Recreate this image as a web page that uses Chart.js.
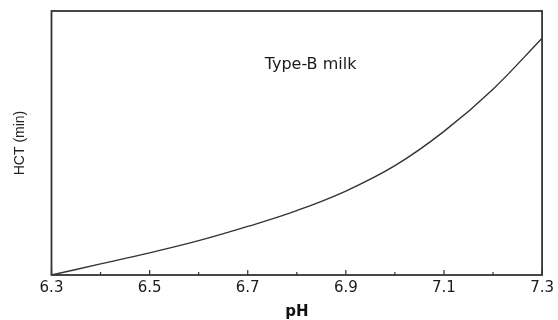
<!DOCTYPE html>
<html>
<head>
<meta charset="utf-8">
<script src="https://cdn.jsdelivr.net/npm/chart.js@4"></script>
<style>
  html, body { margin: 0; padding: 0; background: #fff; }
  #wrap { width: 558px; height: 320px; }
</style>
</head>
<body>
<div id="wrap"><canvas id="hct"></canvas></div>
<script>
// data (HCT in arbitrary units, axis has no y labels)
const phValues  = [6.3, 6.4, 6.5, 6.6, 6.7, 6.8, 6.9, 7.0, 7.1, 7.2, 7.3];
const hctValues = [0, 4.2, 8.4, 13.0, 18.4, 24.4, 31.8, 41.4, 54.4, 70.4, 89.7];
const majorTicks = [6.3, 6.5, 6.7, 6.9, 7.1, 7.3];
const minorTicks = [6.4, 6.6, 6.8, 7.0, 7.2];
const annotation = 'Type-B milk';

const INK = '#333';

// frame + inward ticks + annotation text
const framePlugin = {
  id: 'frame',
  afterDraw(chart) {
    const { ctx, chartArea: a, scales: { x, y } } = chart;
    ctx.save();
    ctx.strokeStyle = INK;
    ctx.lineWidth = 1.8;
    ctx.strokeRect(a.left, a.top, a.right - a.left, a.bottom - a.top);
    ctx.lineWidth = 1.2;
    const tick = (v, len) => {
      const px = x.getPixelForValue(v);
      ctx.beginPath();
      ctx.moveTo(px, a.bottom);
      ctx.lineTo(px, a.bottom - len);
      ctx.stroke();
    };
    majorTicks.forEach(v => tick(v, 5));
    minorTicks.forEach(v => tick(v, 3));
    ctx.fillStyle = '#1a1a1a';
    ctx.font = '16px "DejaVu Sans"';
    ctx.textAlign = 'center';
    ctx.textBaseline = 'middle';
    ctx.fillText(annotation, x.getPixelForValue(6.828), y.getPixelForValue(79.6));
    ctx.restore();
  }
};

new Chart(document.getElementById('hct'), {
  type: 'line',
  data: {
    labels: phValues,
    datasets: [{
      data: phValues.map((p, i) => ({ x: p, y: hctValues[i] })),
      borderColor: '#333',
      borderWidth: 1.4,
      pointRadius: 0,
      tension: 0.4,
      fill: false,
    }]
  },
  options: {
    responsive: true, maintainAspectRatio: false,
    animation: false,
    layout: { padding: { top: 11, right: 13, left: 0, bottom: 0 } },
    plugins: { legend: { display: false }, tooltip: { enabled: false } },
    scales: {
      x: {
        type: 'linear', min: 6.3, max: 7.3,
        grid: { display: false, drawTicks: false },
        border: { display: false },
        afterBuildTicks: s => { s.ticks = majorTicks.map(v => ({ value: v })); },
        ticks: {
          color: '#1a1a1a', padding: 4,
          font: { family: 'DejaVu Sans', size: 15 },
          callback: v => v.toFixed(1)
        },
        title: {
          display: true, text: 'pH', color: '#111',
          font: { family: 'DejaVu Sans', size: 15, weight: 'bold', lineHeight: 1 },
          padding: { top: 0, bottom: 0 }
        },
        afterFit: s => { s.height = 45; }
      },
      y: {
        min: 0, max: 100,
        grid: { display: false },
        border: { display: false },
        ticks: { display: false },
        title: {
          display: true, text: 'HCT (min)', color: '#222',
          font: { family: 'Liberation Sans', size: 14 },
          padding: { top: 12, bottom: 0 }
        },
        afterFit: s => { s.width = 51.5; }
      }
    }
  },
  plugins: [framePlugin]
});
</script>
</body>
</html>
